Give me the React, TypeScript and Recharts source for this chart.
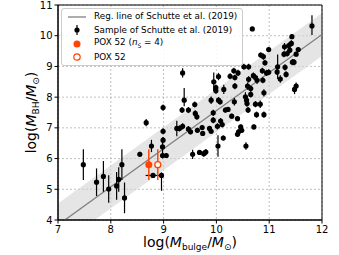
import {
  ComposedChart,
  Scatter,
  Line,
  Area,
  XAxis,
  YAxis,
  CartesianGrid,
  ErrorBar,
  ReferenceArea,
} from "recharts";

// Schutte et al. (2019) sample: log M_bulge, log M_BH and M_BH error
const bulgeMass = [
  7.48, 7.73, 7.86, 7.96, 8.11, 8.15, 8.21, 8.26, 8.55, 8.67,
  8.77, 8.99, 8.99, 8.99, 8.98, 8.98, 9.05, 8.96, 9.36, 9.39,
  9.35, 9.25, 9.3, 9.36, 9.47, 9.47, 9.51, 9.55, 9.59, 9.6,
  9.63, 9.64, 9.68, 9.73, 9.74, 9.76, 9.8, 9.87, 9.9, 9.9,
  9.94, 9.94, 9.95, 9.99, 9.99, 10.04, 10.02, 10.03, 10.04, 10.07,
  10.08, 10.11, 10.13, 10.14, 10.17, 10.22, 10.26, 10.29, 10.33, 10.34,
  10.35, 10.35, 10.4, 10.41, 10.4, 10.42, 10.46, 10.48, 10.52, 10.56,
  10.55, 10.57, 10.58, 10.59, 10.6, 10.61, 10.61, 10.65, 10.65, 10.68,
  10.7, 10.71, 10.74, 10.74, 10.76, 10.77, 10.83, 10.84, 10.87, 10.88,
  10.89, 10.9, 10.9, 10.92, 10.95, 10.99, 10.99, 11.15, 11.16, 11.21,
  11.28, 11.29, 11.3, 11.32, 11.34, 11.37, 11.39, 11.42, 11.43, 11.44,
  11.47, 11.48, 11.51, 11.51, 11.55, 11.81,
];
const bhMass = [
  5.8, 5.23, 5.42, 5.01, 5.11, 5.32, 5.8, 4.72, 6.14, 7.17,
  6.41, 7.66, 6.89, 6.6, 6.38, 6.1, 6.1, 5.45, 8.79, 7.9,
  7.58, 6.98, 6.98, 7.05, 7.58, 6.96, 6.87, 6.14, 7.76, 7.47,
  7.36, 6.92, 6.2, 7.01, 6.82, 6.16, 6.21, 6.98, 6.89, 7.9,
  7.49, 7.25, 8.5, 8.31, 8.21, 8.67, 7.05, 6.41, 7.9, 7.85,
  7.22, 7.11, 6.67, 8.25, 7.58, 7.6, 8.68, 7.38, 8.86, 7.85,
  8.36, 8.64, 7.3, 8.79, 6.79, 6.87, 7.03, 6.92, 8.99, 6.41,
  8.01, 7.9, 7.79, 8.36, 7.58, 8.99, 8.58, 8.28, 8.09, 10.22,
  8.7, 7.03, 7.77, 8.64, 7.43, 8.55, 7.77, 9.37, 8.86, 8.55,
  9.32, 8.14, 7.43, 9.12, 8.79, 9.55, 8.81, 8.82, 8.99, 8.59,
  9.4, 9.64, 8.97, 8.74, 9.42, 9.68, 9.53, 9.75, 9.97, 9.14,
  9.14, 8.25, 8.36, 9.4, 9.55, 10.32,
];
const bhErr: (number | [number, number])[] = [
  0.5, 0.45, 0.5, 0.45, 0.45, 0.4, 0.5, 0.5, 0.08, 0.12,
  0.2, 0.1, 0.1, 0.1, 0.3, 0.1, 0.08, [0.5, 0.1], 0.15, [0.2, 0.4],
  0.1, 0.25, 0.1, 0.1, 0.1, 0.1, 0.08, 0.15, 0.1, 0.1,
  0.1, 0.08, 0.08, 0.08, 0.08, 0.1, 0.1, 0.08, 0.08, 0.12,
  0.1, 0.1, 0.3, 0.1, 0.1, 0.12, 0.1, 0.35, 0.1, 0.1,
  0.1, 0.1, 0.08, 0.15, 0.08, 0.08, 0.1, 0.08, 0.1, 0.12,
  0.1, 0.1, 0.08, 0.1, 0.08, 0.08, 0.08, 0.08, 0.1, 0.12,
  0.15, 0.1, 0.1, 0.12, 0.1, 0.1, 0.1, 0.1, 0.1, 0.05,
  0.1, 0.08, 0.1, 0.1, 0.1, 0.12, 0.12, 0.08, 0.1, 0.1,
  0.1, 0.12, 0.1, 0.1, 0.1, 0.08, 0.1, 0.1, 0.4, 0.12,
  0.1, 0.12, 0.1, 0.1, 0.1, 0.1, 0.1, 0.1, 0.08, 0.1,
  0.1, 0.15, 0.12, 0.08, 0.08, [0.3, 0.35],
];

// sample point with bulge-mass error bar
const xErrBulge = [8.8];
const xErrBh = [5.45];
const xErrVal = [0.14];

// POX 52
const poxBulge = [8.72, 8.89];
const poxBh = [5.8, 5.8];
const poxErr = [0.5, 0.5];

// regression line of Schutte et al. (2019) and its scatter band
const regX = [7, 12];
const regY = [3.84, 10.04];
const regScatter = 0.7;

const xTicks = [7, 8, 9, 10, 11, 12];
const yTicks = [4, 5, 6, 7, 8, 9, 10, 11];

const ORANGE = "#ff4500";
const FONT = "DejaVu Sans, sans-serif";

const regData = regX.map((x, i) => ({
  x,
  reg: regY[i],
  band: [regY[i] - regScatter, regY[i] + regScatter],
}));
const sample = bulgeMass.map((x, i) => ({ x, y: bhMass[i], err: bhErr[i] }));
const sampleX = xErrBulge.map((x, i) => ({ x, y: xErrBh[i], xerr: xErrVal[i] }));
const poxFilled = [{ x: poxBulge[0], y: poxBh[0], err: poxErr[0] }];
const poxOpen = [{ x: poxBulge[1], y: poxBh[1], err: poxErr[1] }];

const Dot = (r: number, fill: string, stroke: string) => (p: any) =>
  <circle cx={p.cx} cy={p.cy} r={r} fill={fill} stroke={stroke} strokeWidth={1.3} />;

function LegendBox() {
  const row = { display: "flex", alignItems: "center", height: 13.5 } as const;
  const icon = { width: 22, marginRight: 6, display: "flex", justifyContent: "center" } as const;
  return (
    <div
      style={{
        position: "absolute",
        left: 61,
        top: 8,
        fontFamily: FONT,
        fontSize: 8.8,
        background: "rgba(255,255,255,0.85)",
        border: "1px solid #cccccc",
        borderRadius: 3,
        padding: "1px 5px 1px 4px",
        color: "#000",
        lineHeight: 1,
        whiteSpace: "nowrap",
      }}
    >
      <div style={row}>
        <div style={icon}>
          <svg width={20} height={6}><line x1={1} y1={3} x2={19} y2={3} stroke="#808080" strokeWidth={1.3} /></svg>
        </div>
        Reg. line of Schutte et al. (2019)
      </div>
      <div style={row}>
        <div style={icon}>
          <svg width={8} height={12}>
            <line x1={4} y1={1} x2={4} y2={11} stroke="#000" strokeWidth={1.2} />
            <circle cx={4} cy={6} r={2.6} fill="#000" />
          </svg>
        </div>
        Sample of Schutte et al. (2019)
      </div>
      <div style={row}>
        <div style={icon}>
          <svg width={10} height={10}><circle cx={5} cy={5} r={3.5} fill={ORANGE} /></svg>
        </div>
        <span>
          POX 52 (<i>n</i>
          <sub style={{ fontSize: 6 }}>S</sub> = 4)
        </span>
      </div>
      <div style={row}>
        <div style={icon}>
          <svg width={10} height={10}><circle cx={5} cy={5} r={3.2} fill="#fff" stroke={ORANGE} strokeWidth={1.2} /></svg>
        </div>
        POX 52
      </div>
    </div>
  );
}

function YLabel({ viewBox }: any) {
  const cx = 36;
  const cy = viewBox ? viewBox.y + viewBox.height / 2 : 112;
  return (
    <text x={cx} y={cy} transform={`rotate(-90 ${cx} ${cy})`} textAnchor="middle" fontFamily={FONT} fontSize={14} fill="#000">
      log(<tspan fontStyle="italic">M</tspan>
      <tspan fontSize={9} dy={3}>BH</tspan>
      <tspan dy={-3}>/</tspan>
      <tspan fontStyle="italic">M</tspan>
      <tspan fontSize={9} dy={3}>⊙</tspan>
      <tspan dy={-3}>)</tspan>
    </text>
  );
}

function XLabel({ viewBox }: any) {
  const cx = viewBox ? viewBox.x + viewBox.width / 2 : 190;
  return (
    <text x={cx} y={247} textAnchor="middle" fontFamily={FONT} fontSize={14} fill="#000">
      log(<tspan fontStyle="italic">M</tspan>
      <tspan fontSize={9} dy={3}>bulge</tspan>
      <tspan dy={-3}>/</tspan>
      <tspan fontStyle="italic">M</tspan>
      <tspan fontSize={9} dy={3}>⊙</tspan>
      <tspan dy={-3}>)</tspan>
    </text>
  );
}

export default function App() {
  return (
    <div style={{ position: "absolute", left: 0, top: 0, width: 339, height: 255, background: "#fff" }}>
      <ComposedChart width={339} height={255} data={regData} margin={{ top: 5, right: 17, bottom: 0, left: 0 }}>
        <CartesianGrid stroke="#b0b0b0" strokeDasharray="2 2" strokeWidth={0.8} />
        <XAxis
          dataKey="x"
          type="number"
          domain={[7, 12]}
          ticks={xTicks}
          allowDataOverflow
          height={35}
          tickSize={3.5}
          tickMargin={2}
          tick={{ fontSize: 10, fill: "#000", fontFamily: FONT }}
          stroke="#000"
          label={<XLabel />}
        />
        <YAxis
          type="number"
          domain={[4, 11]}
          ticks={yTicks}
          allowDataOverflow
          width={58}
          tickSize={3.5}
          tickMargin={2}
          tick={{ fontSize: 10, fill: "#000", fontFamily: FONT }}
          stroke="#000"
          label={<YLabel />}
        />
        <Area
          type="linear"
          dataKey="band"
          fill="#d3d3d3"
          fillOpacity={0.6}
          stroke="none"
          isAnimationActive={false}
          activeDot={false}
        />
        <Line
          type="linear"
          dataKey="reg"
          stroke="#808080"
          strokeWidth={1.3}
          dot={false}
          activeDot={false}
          isAnimationActive={false}
        />
        <Scatter data={sample} dataKey="y" fill="#000" shape={Dot(2.6, "#000", "none")} isAnimationActive={false}>
          <ErrorBar dataKey="err" direction="y" width={0} stroke="#000" strokeWidth={1.2} />
        </Scatter>
        <Scatter data={sampleX} dataKey="y" fill="#000" shape={Dot(2.6, "#000", "none")} isAnimationActive={false}>
          <ErrorBar dataKey="xerr" direction="x" width={0} stroke="#000" strokeWidth={1.2} />
        </Scatter>
        <Scatter data={poxFilled} dataKey="y" fill={ORANGE} shape={Dot(3.5, ORANGE, "none")} isAnimationActive={false}>
          <ErrorBar dataKey="err" direction="y" width={0} stroke={ORANGE} strokeWidth={1.5} />
        </Scatter>
        <Scatter data={poxOpen} dataKey="y" fill={ORANGE} shape={Dot(3, "#fff", ORANGE)} isAnimationActive={false}>
          <ErrorBar dataKey="err" direction="y" width={0} stroke={ORANGE} strokeWidth={1.5} />
        </Scatter>
        <ReferenceArea x1={7} x2={12} y1={4} y2={11} fill="none" stroke="#000" strokeWidth={1} ifOverflow="visible" />
      </ComposedChart>
      <LegendBox />
    </div>
  );
}
